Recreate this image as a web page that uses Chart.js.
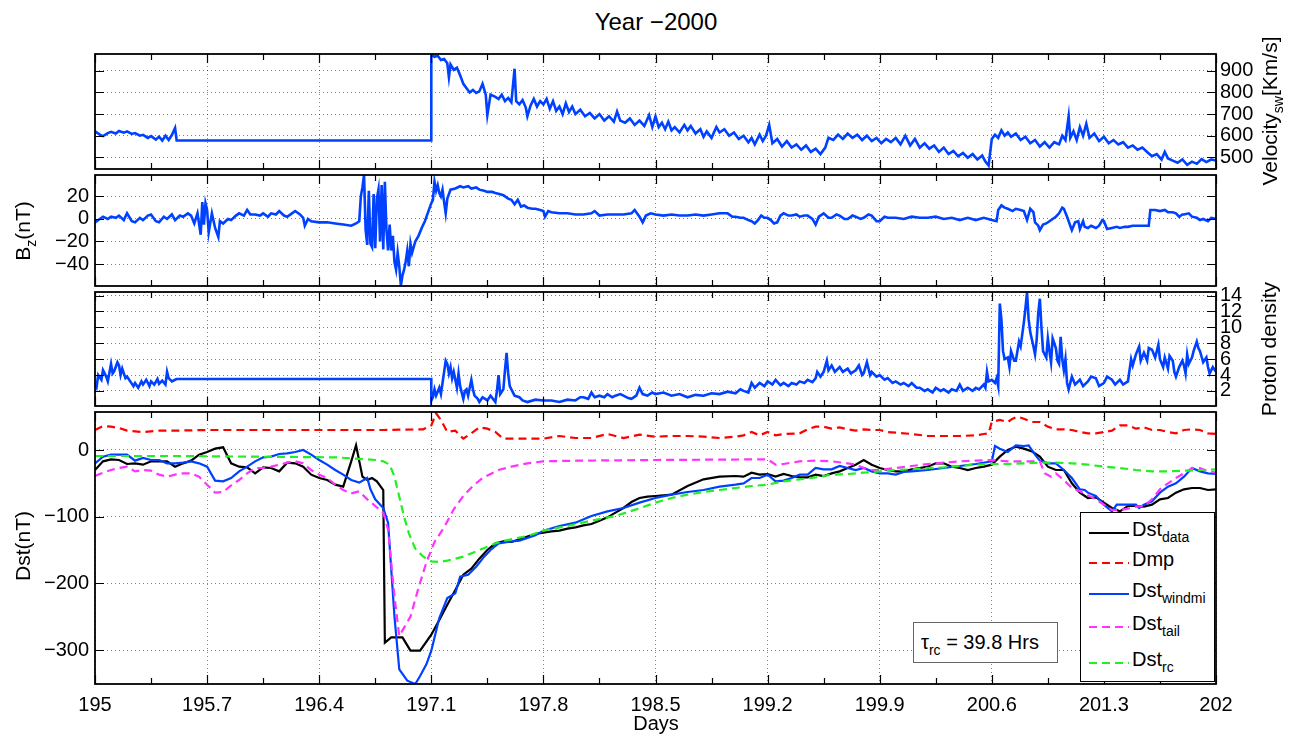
<!DOCTYPE html>
<html>
<head>
<meta charset="utf-8">
<script src="https://cdn.jsdelivr.net/npm/chart.js@4.4.1/dist/chart.umd.min.js"></script>
<style>
  body { margin: 0; background: #fff; font-family: "Liberation Sans", Arial, Helvetica, sans-serif; color: #000; }
  #wrap { position: relative; width: 1297px; height: 734px; overflow: hidden; }
  #wrap canvas { position: absolute; left: 0; }
  .txt { position: absolute; white-space: nowrap; font-size: 21px; line-height: 1; }
  .rot { transform: translate(-50%, -50%) rotate(-90deg); }
  sub { font-size: 14px; vertical-align: -6px; }
  #legend { position: absolute; left: 1080px; top: 512px; width: 133px; height: 168px; border: 1px solid #000; background: #fff; }
  #legend svg { position: absolute; left: 0; top: 0; }
  .leg { position: absolute; left: 51px; font-size: 20px; line-height: 1; white-space: nowrap; }
  #tau { position: absolute; left: 913px; top: 622px; width: 143px; height: 39px; border: 1px solid #666; background: #fff; }
</style>
</head>
<body>
<div id="wrap">
  <canvas id="velChart" width="1297" height="147" style="top:38px"></canvas>
  <canvas id="bzChart" width="1297" height="147" style="top:157px"></canvas>
  <canvas id="denChart" width="1297" height="146" style="top:276px"></canvas>
  <canvas id="dstChart" width="1297" height="334" style="top:394px"></canvas>

  <div class="txt" style="left:656px; top:10px; font-size:24px; transform:translateX(-50%)">Year &minus;2000</div>
  <div class="txt" style="left:656px; top:713px; font-size:20px; transform:translateX(-50%)">Days</div>
  <div class="txt rot" style="left:1272px; top:111px">Velocity<sub>sw</sub>[Km/s]</div>
  <div class="txt rot" style="left:25px; top:231px">B<sub>z</sub>(nT)</div>
  <div class="txt rot" style="left:1268px; top:349px">Proton density</div>
  <div class="txt rot" style="left:22px; top:546px">Dst(nT)</div>

  <div id="tau"><div class="txt" style="left:7px; top:9px; font-size:20px">&tau;<sub>rc</sub> = 39.8 Hrs</div></div>
  <div id="legend"></div>
</div>

<script>
// x axis ticks, shared by all four panels
const dayTicks = [195, 195.7, 196.4, 197.1, 197.8, 198.5, 199.2, 199.9, 200.6, 201.3, 202];
const dayLabels = ['195', '195.7', '196.4', '197.1', '197.8', '198.5', '199.2', '199.9', '200.6', '201.3', '202'];
const minorDays = [195.35, 196.05, 196.75, 197.45, 198.15, 198.85, 199.55, 200.25, 200.95, 201.65];

// y ticks per panel
const velTicks = [500, 600, 700, 800, 900];
const bzTicks = [-40, -20, 0, 20];
const denTicks = [2, 4, 6, 8, 10, 12, 14];
const dstTicks = [-300, -200, -100, 0];

// Solar wind velocity [day, km/s]
const velocity = [
  [195.00,620],[195.03,605],[195.05,598],[195.08,612],[195.10,618],[195.13,610],[195.15,622],[195.18,614],
  [195.20,620],[195.23,608],[195.25,612],[195.28,600],[195.30,604],[195.33,590],[195.35,598],[195.38,582],
  [195.40,596],[195.42,578],[195.44,600],[195.46,580],[195.48,603],[195.50,636],[195.51,578],[197.10,578],
  [197.10,976],[197.12,965],[197.14,970],[197.16,950],[197.18,955],[197.20,935],[197.21,870],[197.22,930],
  [197.24,905],[197.26,915],[197.28,880],[197.30,840],[197.32,820],[197.34,800],[197.36,812],[197.38,798],
  [197.40,805],[197.42,840],[197.44,790],[197.45,695],[197.47,790],[197.50,780],[197.52,770],[197.54,790],
  [197.56,760],[197.58,775],[197.60,755],[197.62,910],[197.63,760],[197.65,745],[197.67,765],[197.69,730],
  [197.70,690],[197.72,740],[197.74,770],[197.76,735],[197.78,760],[197.80,745],[197.82,770],[197.84,725],
  [197.86,760],[197.88,715],[197.90,735],[197.92,700],[197.94,750],[197.96,710],[197.98,735],[198.00,700],
  [198.03,720],[198.06,690],[198.09,705],[198.12,680],[198.15,700],[198.18,670],[198.21,690],[198.24,665],
  [198.26,712],[198.28,670],[198.31,660],[198.34,680],[198.37,650],[198.40,670],[198.43,645],[198.46,695],
  [198.48,640],[198.50,690],[198.52,640],[198.54,660],[198.56,630],[198.58,665],[198.60,625],[198.62,640],
  [198.65,615],[198.68,650],[198.70,625],[198.72,645],[198.75,610],[198.78,630],[198.80,595],[198.82,620],
  [198.85,590],[198.88,640],[198.90,615],[198.93,630],[198.96,600],[198.99,615],[199.02,585],[199.05,600],
  [199.08,570],[199.10,590],[199.12,560],[199.15,605],[199.17,575],[199.19,600],[199.21,650],[199.23,565],
  [199.26,585],[199.29,550],[199.32,575],[199.35,545],[199.38,560],[199.41,535],[199.44,555],[199.47,525],
  [199.50,540],[199.53,515],[199.56,545],[199.58,590],[199.61,580],[199.64,605],[199.67,585],[199.70,610],
  [199.73,590],[199.76,605],[199.79,580],[199.82,600],[199.85,575],[199.88,590],[199.91,565],[199.94,585],
  [199.97,570],[200.00,590],[200.03,560],[200.06,600],[200.09,555],[200.12,585],[200.15,545],[200.18,565],
  [200.21,540],[200.24,555],[200.27,525],[200.30,545],[200.33,515],[200.36,530],[200.39,505],[200.42,520],
  [200.45,498],[200.48,515],[200.51,490],[200.54,508],[200.56,480],[200.58,462],[200.60,585],[200.62,605],
  [200.64,590],[200.66,625],[200.68,600],[200.70,615],[200.72,595],[200.75,610],[200.78,580],[200.81,595],
  [200.84,565],[200.87,580],[200.90,550],[200.93,570],[200.96,545],[200.99,570],[201.02,560],[201.04,600],
  [201.06,580],[201.08,690],[201.09,590],[201.11,620],[201.13,580],[201.15,640],[201.17,600],[201.19,655],
  [201.21,590],[201.24,610],[201.27,575],[201.30,595],[201.33,565],[201.36,580],[201.39,560],[201.42,570],
  [201.45,545],[201.48,555],[201.51,535],[201.54,545],[201.57,525],[201.60,505],[201.63,515],[201.66,490],
  [201.68,525],[201.70,495],[201.73,485],[201.76,475],[201.79,490],[201.82,465],[201.85,480],[201.88,470],
  [201.91,492],[201.94,478],[201.97,490],[202.00,485]
];

// IMF Bz [day, nT]
const bz = [
  [195.00,-3],[195.03,0],[195.05,2],[195.08,0],[195.10,2],[195.13,1],[195.15,3],[195.18,-1],[195.20,5],
  [195.23,-2],[195.25,-3],[195.28,1],[195.30,-1],[195.33,3],[195.35,4],[195.38,-2],[195.40,-3],[195.43,2],
  [195.45,0],[195.48,4],[195.50,-1],[195.53,3],[195.55,2],[195.58,5],[195.60,3],[195.62,-4],[195.64,5],
  [195.66,-14],[195.67,15],[195.68,-5],[195.69,14],[195.70,8],[195.71,-12],[195.73,5],[195.75,-8],
  [195.77,-16],[195.78,-2],[195.80,-4],[195.83,0],[195.85,-1],[195.88,3],[195.90,5],[195.93,3],[195.95,8],
  [195.97,4],[196.00,4],[196.03,3],[196.05,5],[196.08,2],[196.10,5],[196.13,4],[196.15,7],[196.18,3],
  [196.20,2],[196.23,5],[196.25,7],[196.28,4],[196.30,1],[196.31,-6],[196.33,0],[196.35,-2],[196.40,-3],
  [196.45,-3],[196.50,-4],[196.55,-5],[196.60,-6],[196.63,-4],[196.65,-2],[196.66,20],[196.67,28],
  [196.68,39],[196.69,-10],[196.70,-23],[196.71,25],[196.72,-22],[196.73,-25],[196.74,22],[196.75,-26],
  [196.76,18],[196.77,26],[196.78,-20],[196.79,30],[196.80,-27],[196.81,33],[196.82,-10],[196.83,-28],
  [196.84,-5],[196.85,-28],[196.86,-15],[196.87,-38],[196.88,-45],[196.89,-30],[196.90,-42],[196.91,-59],
  [196.92,-50],[196.93,-45],[196.94,-38],[196.95,-28],[196.96,-42],[196.97,-22],[196.98,-30],[197.00,-20],
  [197.02,-15],[197.04,-8],[197.06,-2],[197.08,6],[197.10,14],[197.11,17],[197.12,33],[197.13,25],
  [197.14,30],[197.15,23],[197.16,20],[197.17,26],[197.18,15],[197.19,5],[197.20,18],[197.22,26],
  [197.25,27],[197.28,29],[197.30,28],[197.33,29],[197.35,27],[197.38,28],[197.40,26],[197.43,25],
  [197.45,24],[197.48,24],[197.50,23],[197.53,22],[197.55,21],[197.58,18],[197.60,17],[197.62,13],
  [197.64,17],[197.66,11],[197.68,12],[197.70,10],[197.73,9],[197.75,9],[197.78,8],[197.80,7],[197.81,2],
  [197.83,7],[197.85,6],[197.90,5],[197.95,5],[198.00,4],[198.05,4],[198.10,5],[198.12,7],[198.15,3],
  [198.20,4],[198.25,4],[198.30,4],[198.35,5],[198.37,8],[198.40,2],[198.42,-3],[198.44,3],[198.47,5],
  [198.50,4],[198.55,3],[198.60,4],[198.65,3],[198.70,3],[198.75,4],[198.80,3],[198.85,4],[198.90,5],
  [198.95,5],[198.98,2],[199.00,2],[199.03,1],[199.05,1],[199.08,-1],[199.10,-2],[199.12,-4],[199.14,-1],
  [199.16,3],[199.18,1],[199.20,1],[199.22,-1],[199.24,-4],[199.26,-3],[199.28,3],[199.30,5],[199.33,3],
  [199.35,3],[199.38,4],[199.40,2],[199.43,3],[199.45,3],[199.48,0],[199.50,-5],[199.52,2],[199.55,5],
  [199.58,1],[199.60,1],[199.63,4],[199.65,3],[199.68,0],[199.70,0],[199.73,3],[199.75,2],[199.78,0],
  [199.80,1],[199.83,4],[199.85,3],[199.88,-2],[199.90,-2],[199.93,2],[199.95,1],[200.00,1],[200.05,0],
  [200.10,2],[200.15,1],[200.20,1],[200.25,2],[200.30,0],[200.35,1],[200.40,-1],[200.45,1],[200.50,-1],
  [200.55,1],[200.60,-1],[200.63,-2],[200.64,8],[200.66,12],[200.68,10],[200.70,9],[200.73,7],[200.75,9],
  [200.78,8],[200.80,7],[200.82,-1],[200.84,9],[200.86,6],[200.87,-3],[200.89,-6],[200.90,-10],[200.92,-5],
  [200.94,-4],[200.96,-2],[200.98,0],[201.00,2],[201.02,5],[201.04,10],[201.05,9],[201.07,2],[201.09,-6],
  [201.10,-10],[201.12,-3],[201.14,-2],[201.15,-9],[201.17,-2],[201.18,-7],[201.20,-8],[201.22,-6],
  [201.25,-8],[201.27,-6],[201.29,-1],[201.30,-2],[201.32,-9],[201.35,-8],[201.38,-7],[201.40,-8],
  [201.43,-7],[201.45,-7],[201.48,-6],[201.50,-6],[201.53,-6],[201.55,-6],[201.58,-6],[201.59,8],
  [201.62,8],[201.65,7],[201.68,8],[201.70,6],[201.73,6],[201.75,5],[201.77,2],[201.79,4],[201.80,4],
  [201.83,5],[201.85,2],[201.88,1],[201.90,-1],[201.92,0],[201.95,-2],[201.97,1],[202.00,0]
];

// Proton density [day, value]
const density = [
  [195.00,3],[195.01,2.5],[195.02,4],[195.04,3.4],[195.05,4.6],[195.07,3.8],[195.08,3.2],[195.10,5.4],
  [195.11,4.2],[195.12,4.5],[195.14,5.6],[195.15,5.2],[195.16,4],[195.17,4.8],[195.19,3.6],[195.20,3.8],
  [195.22,3.2],[195.24,2.6],[195.25,3],[195.27,2.4],[195.29,3.2],[195.30,2.8],[195.32,3.4],[195.34,2.6],
  [195.35,3.2],[195.37,2.8],[195.39,3.5],[195.40,2.9],[195.42,3.3],[195.44,2.8],[195.45,4.4],[195.46,3.6],
  [195.48,3.2],[195.50,3.4],[195.51,3.5],[197.10,3.5],[197.10,0.8],[197.11,1.2],[197.12,2.2],[197.13,1.4],
  [197.15,2.4],[197.16,1.6],[197.17,3],[197.18,4.4],[197.19,5.8],[197.20,5.4],[197.21,4.2],[197.22,5],
  [197.23,3.6],[197.24,4.4],[197.25,3.4],[197.26,2.4],[197.27,4.2],[197.28,2.6],[197.30,1],[197.31,2],
  [197.32,2.2],[197.33,1.4],[197.35,3.4],[197.36,2.2],[197.37,1.4],[197.39,1],[197.40,0.6],[197.42,1.2],
  [197.45,0.8],[197.47,1.4],[197.50,0.6],[197.51,2],[197.52,4],[197.53,1.6],[197.55,2.2],[197.56,4.6],
  [197.57,6.8],[197.58,4.2],[197.59,2.6],[197.60,2.2],[197.62,1.4],[197.65,1.2],[197.67,0.8],[197.70,0.6],
  [197.75,0.9],[197.80,0.8],[197.85,0.8],[197.90,0.6],[197.95,0.9],[198.00,0.8],[198.03,1.2],[198.05,1.2],
  [198.08,1],[198.10,1.8],[198.12,1.2],[198.15,1.4],[198.18,1.2],[198.20,1.6],[198.23,1.2],[198.25,1.4],
  [198.28,1.6],[198.30,1.4],[198.33,1.1],[198.35,1],[198.38,1.4],[198.40,2.4],[198.42,1.6],[198.45,1.4],
  [198.48,1.8],[198.50,1.6],[198.55,1.8],[198.60,1.4],[198.65,1.6],[198.70,1.2],[198.75,1.5],[198.80,1.4],
  [198.85,1.7],[198.90,1.6],[198.95,1.9],[199.00,1.7],[199.03,2.2],[199.05,2],[199.08,1.8],[199.10,3],
  [199.12,2.4],[199.15,3],[199.18,2.6],[199.20,3.2],[199.23,2.8],[199.25,3.4],[199.28,2.7],[199.30,3],
  [199.33,2.6],[199.35,3],[199.38,2.8],[199.40,3.2],[199.43,3],[199.45,3.4],[199.48,3.1],[199.50,3.6],
  [199.51,4.4],[199.53,3.8],[199.55,4.4],[199.57,5.8],[199.58,4.6],[199.60,5.2],[199.62,4.4],[199.65,5],
  [199.67,4.4],[199.70,4.8],[199.72,4.2],[199.75,4.6],[199.77,5.2],[199.79,4],[199.80,4.2],[199.82,5.6],
  [199.84,4],[199.85,4.4],[199.88,3.8],[199.90,4],[199.93,3.4],[199.95,3.6],[199.98,3],[200.00,3.2],
  [200.03,2.8],[200.05,3],[200.08,2.6],[200.10,3],[200.13,2.4],[200.15,2.4],[200.18,2],[200.20,2.2],
  [200.23,1.8],[200.25,2.4],[200.28,2],[200.30,2.2],[200.33,1.8],[200.35,2.2],[200.38,2],[200.40,2.8],
  [200.42,2],[200.45,2.4],[200.48,2],[200.50,2.4],[200.52,2.2],[200.55,2.8],[200.56,2.4],[200.57,4.4],
  [200.58,3.2],[200.60,3.4],[200.62,3],[200.63,3.6],[200.64,2.6],[200.65,13],[200.66,11],[200.67,7],
  [200.68,6],[200.70,6.2],[200.71,5],[200.72,7],[200.74,5.8],[200.75,5.8],[200.77,8.2],[200.78,7.6],
  [200.80,10.6],[200.81,12.4],[200.82,14.4],[200.83,11],[200.84,9.4],[200.86,7.6],[200.87,6.6],[200.88,8.4],
  [200.89,11.8],[200.90,13.6],[200.91,10],[200.92,7],[200.94,6.2],[200.95,8.6],[200.96,7],[200.97,5.6],
  [200.98,8.6],[201.00,7.4],[201.01,5.8],[201.02,5.4],[201.03,8.8],[201.04,6],[201.05,4.6],[201.06,6],
  [201.07,3],[201.08,2.2],[201.10,3.8],[201.12,2.8],[201.15,3.4],[201.17,2.6],[201.20,3.2],[201.22,3.8],
  [201.25,3.6],[201.27,2.6],[201.30,3],[201.32,3.8],[201.35,3.4],[201.37,2.8],[201.40,3.4],[201.42,2.8],
  [201.45,3.2],[201.47,6],[201.48,5.2],[201.50,6.6],[201.52,7.6],[201.53,5.8],[201.55,6.8],[201.57,5.8],
  [201.58,7.4],[201.60,7.2],[201.62,6.2],[201.64,7.8],[201.65,6],[201.67,5],[201.68,6.2],[201.70,4.8],
  [201.71,6.4],[201.73,5.8],[201.74,4.4],[201.75,3.8],[201.77,5],[201.79,5.8],[201.80,5.2],[201.81,4.2],
  [201.82,6.6],[201.83,5.4],[201.85,6.2],[201.86,7],[201.88,8.2],[201.89,7.4],[201.90,7],[201.92,5.6],
  [201.94,6.2],[201.95,5],[201.96,4.2],[201.98,5],[202.00,4.4]
];

// Dst measured and model terms [day, nT]
const dstData = [
  [195.00,-30],[195.05,-17],[195.10,-14],[195.15,-15],[195.20,-21],[195.25,-20],[195.30,-22],[195.35,-17],
  [195.40,-17],[195.45,-17],[195.50,-25],[195.55,-20],[195.60,-16],[195.65,-7],[195.70,-3],[195.75,2],
  [195.80,4],[195.85,-20],[195.90,-25],[195.95,-26],[196.00,-35],[196.05,-26],[196.10,-27],[196.15,-32],
  [196.20,-19],[196.25,-20],[196.30,-25],[196.35,-37],[196.40,-42],[196.45,-45],[196.50,-52],[196.55,-55],
  [196.60,-17],[196.63,7],[196.67,-40],[196.70,-45],[196.73,-42],[196.76,-47],[196.80,-60],[196.81,-289],
  [196.85,-281],[196.92,-281],[196.97,-301],[197.03,-301],[197.10,-277],[197.15,-255],[197.20,-232],
  [197.25,-210],[197.30,-187],[197.35,-178],[197.40,-163],[197.45,-150],[197.50,-140],[197.55,-137],
  [197.60,-138],[197.65,-134],[197.70,-130],[197.75,-126],[197.80,-124],[197.85,-122],[197.90,-121],
  [197.95,-118],[198.00,-116],[198.05,-113],[198.10,-111],[198.15,-106],[198.20,-101],[198.25,-94],
  [198.30,-87],[198.35,-78],[198.40,-72],[198.45,-70],[198.50,-69],[198.60,-67],[198.70,-54],[198.80,-44],
  [198.90,-40],[199.00,-39],[199.05,-40],[199.10,-34],[199.15,-37],[199.20,-36],[199.25,-40],[199.30,-36],
  [199.35,-39],[199.40,-41],[199.45,-41],[199.50,-37],[199.55,-39],[199.60,-35],[199.65,-32],[199.70,-27],
  [199.75,-22],[199.80,-15],[199.85,-22],[199.90,-27],[199.95,-30],[200.00,-32],[200.05,-32],[200.10,-29],
  [200.15,-27],[200.20,-25],[200.25,-20],[200.30,-20],[200.35,-25],[200.40,-27],[200.45,-30],[200.50,-27],
  [200.55,-25],[200.60,-22],[200.65,-10],[200.70,0],[200.75,5],[200.80,2],[200.85,-2],[200.90,-10],
  [200.95,-25],[201.00,-30],[201.05,-30],[201.10,-50],[201.15,-64],[201.20,-72],[201.25,-71],[201.30,-79],
  [201.35,-87],[201.40,-92],[201.45,-84],[201.50,-84],[201.55,-85],[201.60,-82],[201.65,-74],[201.70,-72],
  [201.75,-64],[201.80,-59],[201.85,-57],[201.90,-57],[201.95,-60],[202.00,-59]
];
const dmp = [
  [195.00,30],[195.05,36],[195.10,35],[195.15,33],[195.20,29],[195.30,27],[195.40,29],[195.50,29],
  [195.70,30],[196.00,30],[196.40,30],[196.80,30],[197.05,31],[197.08,35],[197.10,37],[197.13,55],
  [197.16,45],[197.20,27],[197.25,29],[197.30,17],[197.35,25],[197.40,34],[197.45,32],[197.50,27],
  [197.55,17],[197.60,17],[197.70,17],[197.80,17],[197.90,21],[198.00,18],[198.10,18],[198.20,24],
  [198.30,18],[198.40,23],[198.50,20],[198.60,21],[198.70,21],[198.80,20],[198.90,18],[199.00,20],
  [199.05,22],[199.10,27],[199.15,22],[199.20,27],[199.25,22],[199.30,24],[199.40,25],[199.45,31],
  [199.50,35],[199.55,35],[199.60,32],[199.65,34],[199.70,31],[199.75,29],[199.80,31],[199.85,30],
  [199.90,30],[199.95,27],[200.00,26],[200.10,24],[200.20,21],[200.30,21],[200.40,21],[200.50,22],
  [200.55,24],[200.58,25],[200.60,42],[200.65,45],[200.70,42],[200.73,47],[200.76,50],[200.80,47],
  [200.85,42],[200.90,42],[200.95,35],[201.00,31],[201.05,31],[201.10,30],[201.15,27],[201.20,25],
  [201.25,25],[201.30,27],[201.35,29],[201.40,37],[201.45,37],[201.50,32],[201.55,34],[201.60,30],
  [201.65,30],[201.70,27],[201.75,25],[201.80,30],[201.85,31],[201.90,30],[201.95,25],[202.00,24]
];
const dstWindmi = [
  [195.00,-20],[195.05,-10],[195.10,-7],[195.15,-7],[195.20,-7],[195.25,-16],[195.30,-12],[195.35,-15],
  [195.40,-15],[195.45,-20],[195.50,-20],[195.55,-19],[195.60,-17],[195.65,-20],[195.70,-25],[195.75,-46],
  [195.80,-47],[195.85,-42],[195.90,-32],[195.95,-25],[196.00,-17],[196.05,-11],[196.10,-10],[196.15,-6],
  [196.20,-5],[196.25,-3],[196.30,0],[196.35,-7],[196.40,-15],[196.45,-22],[196.50,-30],[196.55,-37],
  [196.60,-45],[196.65,-49],[196.70,-42],[196.72,-59],[196.75,-74],[196.80,-87],[196.83,-109],[196.87,-250],
  [196.90,-329],[196.95,-346],[197.00,-351],[197.03,-339],[197.07,-321],[197.10,-301],[197.15,-252],
  [197.20,-222],[197.25,-215],[197.28,-190],[197.33,-187],[197.38,-175],[197.43,-160],[197.47,-150],
  [197.52,-140],[197.60,-137],[197.65,-136],[197.70,-132],[197.75,-128],[197.80,-121],[197.90,-114],
  [198.00,-109],[198.10,-99],[198.20,-92],[198.30,-87],[198.40,-79],[198.50,-72],[198.60,-67],[198.70,-63],
  [198.80,-60],[198.90,-55],[199.00,-52],[199.05,-50],[199.10,-42],[199.15,-42],[199.20,-37],[199.25,-47],
  [199.30,-46],[199.35,-42],[199.40,-37],[199.45,-37],[199.50,-27],[199.55,-29],[199.60,-29],[199.65,-24],
  [199.70,-27],[199.75,-30],[199.80,-27],[199.85,-32],[199.90,-35],[199.95,-35],[200.00,-37],[200.05,-33],
  [200.10,-32],[200.20,-30],[200.30,-27],[200.40,-24],[200.50,-21],[200.60,-17],[200.62,6],[200.65,2],
  [200.70,-3],[200.75,7],[200.80,6],[200.83,7],[200.87,-7],[200.90,-16],[200.95,-20],[201.00,-20],
  [201.05,-30],[201.10,-42],[201.15,-59],[201.18,-60],[201.20,-64],[201.25,-69],[201.30,-82],[201.35,-92],
  [201.38,-82],[201.45,-82],[201.50,-82],[201.52,-87],[201.55,-82],[201.60,-77],[201.65,-64],[201.70,-55],
  [201.75,-50],[201.80,-40],[201.85,-27],[201.90,-32],[201.95,-35],[202.00,-36]
];
const dstTail = [
  [195.00,-39],[195.05,-34],[195.10,-30],[195.15,-27],[195.20,-25],[195.25,-32],[195.30,-30],[195.35,-31],
  [195.40,-37],[195.45,-40],[195.50,-37],[195.55,-35],[195.60,-35],[195.65,-40],[195.70,-52],[195.75,-64],
  [195.80,-63],[195.85,-53],[195.90,-45],[195.95,-35],[196.00,-27],[196.05,-27],[196.10,-25],[196.15,-22],
  [196.20,-19],[196.25,-17],[196.30,-20],[196.35,-30],[196.40,-37],[196.45,-42],[196.50,-52],[196.55,-60],
  [196.60,-65],[196.65,-62],[196.70,-74],[196.75,-84],[196.80,-94],[196.83,-119],[196.87,-220],[196.90,-279],
  [196.97,-250],[197.02,-207],[197.07,-168],[197.12,-138],[197.18,-116],[197.24,-89],[197.30,-69],
  [197.36,-54],[197.42,-42],[197.52,-30],[197.60,-25],[197.70,-20],[197.80,-17],[198.00,-16],[198.50,-15],
  [199.20,-14],[199.25,-22],[199.30,-21],[199.40,-17],[199.50,-16],[199.60,-17],[199.70,-20],[199.75,-22],
  [199.80,-27],[199.85,-30],[199.90,-30],[200.00,-27],[200.10,-24],[200.20,-21],[200.30,-19],[200.40,-17],
  [200.50,-16],[200.60,-15],[200.70,-17],[200.80,-17],[200.90,-17],[200.93,-35],[200.97,-40],[201.00,-35],
  [201.05,-45],[201.10,-57],[201.15,-62],[201.20,-68],[201.25,-74],[201.30,-82],[201.35,-90],[201.40,-90],
  [201.45,-88],[201.50,-85],[201.55,-84],[201.60,-74],[201.65,-59],[201.70,-50],[201.75,-42],[201.80,-35],
  [201.85,-27],[201.90,-27],[201.95,-32],[202.00,-34]
];
const dstRc = [
  [195.00,-9],[195.50,-9],[196.00,-10],[196.50,-11],[196.70,-14],[196.75,-15],[196.80,-17],[196.84,-22],
  [196.87,-40],[196.90,-70],[196.93,-100],[196.96,-125],[197.00,-148],[197.05,-160],[197.10,-167],
  [197.15,-168],[197.20,-166],[197.30,-160],[197.40,-150],[197.50,-140],[197.56,-136],[197.70,-129],
  [197.80,-121],[197.95,-114],[198.10,-106],[198.25,-99],[198.38,-89],[198.50,-79],[198.60,-72],
  [198.70,-67],[198.80,-63],[198.90,-60],[199.00,-57],[199.10,-54],[199.20,-52],[199.30,-47],[199.40,-44],
  [199.50,-41],[199.60,-37],[199.70,-36],[199.80,-34],[199.90,-32],[200.00,-30],[200.10,-29],[200.20,-27],
  [200.30,-26],[200.40,-24],[200.50,-22],[200.60,-21],[200.70,-21],[200.80,-20],[200.90,-19],[201.00,-19],
  [201.10,-20],[201.20,-22],[201.30,-25],[201.40,-27],[201.50,-30],[201.60,-32],[201.70,-32],[201.80,-31],
  [201.90,-30],[202.00,-29]
];

// legend entries (name + subscript)
const legendNames = ['Dst', 'Dmp', 'Dst', 'Dst', 'Dst'];
const legendSubs = ['data', '', 'windmi', 'tail', 'rc'];

const blue = '#0040ff', red = '#ff0000', magenta = '#ff33ff', green = '#22ee22';
const legendColors = ['#000000', red, blue, magenta, green];
const legendDash = [false, true, false, true, true];

Chart.defaults.font.family = '"Liberation Sans", Arial, Helvetica, sans-serif';
Chart.defaults.font.size = 20;
Chart.defaults.color = '#000';

const plotLeft = 95, plotRight = 1216, axisW = 70;
const gridColor = 'rgba(0,0,0,0.5)';

function series(pairs, color, dashed, width) {
  return {
    data: pairs.map(p => ({ x: p[0], y: p[1] })),
    borderColor: color,
    borderWidth: width || 2.2,
    borderDash: dashed ? [8, 5] : [],
    pointRadius: 0,
    tension: 0,
    fill: false
  };
}

// MATLAB-like frame with ticks pointing inward
const framePlugin = {
  id: 'frame',
  afterDraw(chart) {
    const { ctx, chartArea: a, scales } = chart;
    ctx.save();
    ctx.strokeStyle = '#000';
    ctx.lineWidth = 1.2;
    ctx.beginPath();
    dayTicks.forEach(d => {
      const px = Math.round(scales.x.getPixelForValue(d)) + 0.5;
      ctx.moveTo(px, a.top); ctx.lineTo(px, a.top + 9);
      ctx.moveTo(px, a.bottom); ctx.lineTo(px, a.bottom - 9);
    });
    minorDays.forEach(d => {
      const px = Math.round(scales.x.getPixelForValue(d)) + 0.5;
      ctx.moveTo(px, a.top); ctx.lineTo(px, a.top + 6);
      ctx.moveTo(px, a.bottom); ctx.lineTo(px, a.bottom - 6);
    });
    scales.y.ticks.forEach(tk => {
      const py = Math.round(scales.y.getPixelForValue(tk.value)) + 0.5;
      ctx.moveTo(a.left, py); ctx.lineTo(a.left + 9, py);
      ctx.moveTo(a.right, py); ctx.lineTo(a.right - 9, py);
    });
    ctx.stroke();
    ctx.lineWidth = 1.8;
    ctx.strokeRect(a.left, a.top, a.right - a.left, a.bottom - a.top);
    ctx.restore();
  }
};

function panel(id, side, yMin, yMax, yTicks, datasets, isBottom) {
  return new Chart(document.getElementById(id), {
    type: 'line',
    data: { datasets: datasets },
    options: {
      responsive: false,
      animation: false,
      devicePixelRatio: 1,
      events: [],
      layout: {
        padding: {
          top: 14,
          bottom: isBottom ? 0 : 14,
          left: side === 'left' ? plotLeft - axisW : plotLeft,
          right: side === 'left' ? 1297 - plotRight : 1297 - plotRight - axisW
        }
      },
      plugins: { legend: { display: false }, tooltip: { enabled: false } },
      scales: {
        x: {
          type: 'linear', min: 195, max: 202,
          afterBuildTicks: s => { s.ticks = dayTicks.map(v => ({ value: v })); },
          afterFit: s => { s.height = isBottom ? 44 : 0; },
          grid: { color: gridColor, lineWidth: 1, drawTicks: false, tickLength: 0 },
          border: { display: false, dash: [1, 3] },
          ticks: { display: isBottom, padding: 9, autoSkip: false, maxRotation: 0,
                   callback: (v, i) => dayLabels[i] }
        },
        y: {
          position: side, min: yMin, max: yMax,
          afterBuildTicks: s => { s.ticks = yTicks.map(v => ({ value: v })); },
          afterFit: s => { s.width = axisW; },
          grid: { color: gridColor, lineWidth: 1, drawTicks: false, tickLength: 0 },
          border: { display: false, dash: [1, 3] },
          ticks: { padding: side === 'left' ? 6 : 4, autoSkip: false,
                   callback: v => String(v).replace('-', '\u2212') }
        }
      }
    },
    plugins: [framePlugin]
  });
}

panel('velChart', 'right', 446, 978, velTicks, [series(velocity, blue, false, 2.6)], false);
panel('bzChart', 'left', -59.5, 39, bzTicks, [series(bz, blue, false, 2.6)], false);
panel('denChart', 'right', 0.1, 14.45, denTicks, [series(density, blue, false, 2.6)], false);
panel('dstChart', 'left', -351, 57, dstTicks, [
  series(dstRc, green, true),
  series(dstTail, magenta, true),
  series(dstWindmi, blue, false),
  series(dmp, red, true),
  series(dstData, '#000000', false)
], true);

// legend for the Dst panel
const legend = document.getElementById('legend');
const rowY = [20, 50, 81, 114, 150];
let svg = '<svg width="133" height="168">';
legendNames.forEach((n, i) => {
  svg += '<line x1="8" x2="48" y1="' + rowY[i] + '" y2="' + rowY[i] + '" stroke="' + legendColors[i] +
         '" stroke-width="2.2"' + (legendDash[i] ? ' stroke-dasharray="8,5"' : '') + '/>';
});
svg += '</svg>';
legend.innerHTML = svg;
legendNames.forEach((n, i) => {
  const d = document.createElement('div');
  d.className = 'leg';
  d.style.top = (rowY[i] - 14) + 'px';
  d.innerHTML = n + (legendSubs[i] ? '<sub>' + legendSubs[i] + '</sub>' : '');
  legend.appendChild(d);
});
</script>
</body>
</html>
